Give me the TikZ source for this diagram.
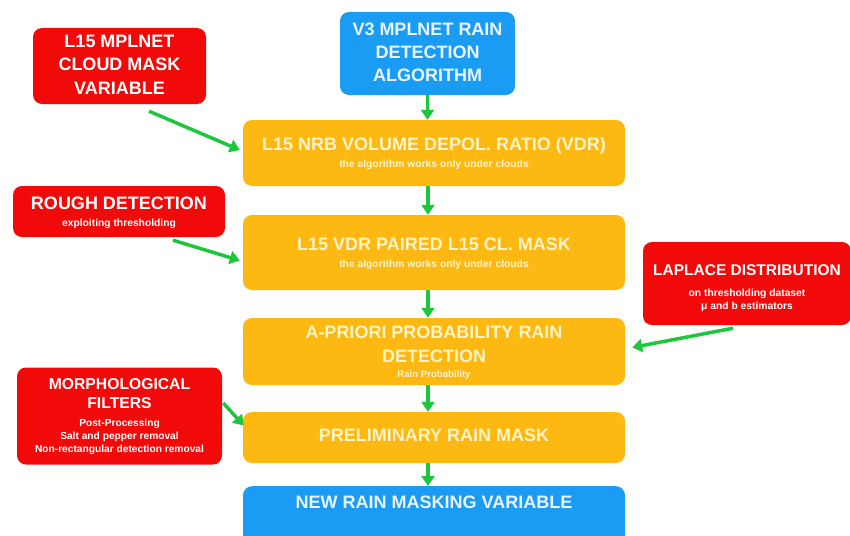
\documentclass[tikz,border=0pt]{standalone}
\usepackage{fontspec}
\setmainfont{Liberation Sans}
\usetikzlibrary{arrows.meta,calc}
\definecolor{boxred}{HTML}{F20A0A}
\definecolor{boxblue}{HTML}{1B9CF4}
\definecolor{boxorange}{HTML}{FDB812}
\definecolor{arrgreen}{HTML}{1EC63E}
\definecolor{cream}{HTML}{FFF4C8}
\definecolor{paleblue}{HTML}{EAF5FF}
\newcommand{\tb}[1]{{\renewcommand{\arraystretch}{0.4}\begin{tabular}{@{}c@{}}#1\end{tabular}}}
\newcommand{\tline}[3]{{\fontsize{#1}{#2}\selectfont\strut #3}}
\begin{document}
\begin{tikzpicture}[x=1pt,y=-1pt,
  box/.style={rectangle, rounded corners=9pt, inner sep=0pt, align=center, font=\bfseries},
  redbox/.style={box, fill=boxred, text=white},
  bluebox/.style={box, fill=boxblue, text=paleblue},
  orangebox/.style={box, fill=boxorange, text=cream, minimum width=382pt},
  arr/.style={draw=arrgreen, line width=3.5pt, -{Triangle[length=10pt,width=13pt]}},
]
\useasboundingbox (0,0) rectangle (850,535);

% main column
\node[bluebox, minimum width=175pt, minimum height=83pt] (top) at (427.5,53.5)
  {\tb{\tline{18}{23}{V3 MPLNET RAIN}\\ \tline{18}{23}{DETECTION}\\ \tline{18}{23}{ALGORITHM}}};
\node[orangebox, minimum height=66pt] (o1) at (434,153)
  {\tb{\tline{18}{24}{L15 NRB VOLUME DEPOL. RATIO (VDR)}\\ \tline{10.3}{14}{the algorithm works only under clouds}}};
\node[orangebox, minimum height=75pt] (o2) at (434,252.5)
  {\tb{\tline{18}{24}{L15 VDR PAIRED L15 CL. MASK}\\ \tline{10.3}{14}{the algorithm works only under clouds}}};
\node[orangebox, minimum height=67pt] (o3) at (434,351.5)
  {\tb{\tline{18}{24}{A-PRIORI PROBABILITY RAIN}\\ \tline{18}{24}{DETECTION}\\ \tline{9.6}{12}{Rain Probability}}};
\node[orangebox, minimum height=51pt] (o4) at (434,437.5)
  {\raisebox{5pt}{\fontsize{18}{22}\selectfont PRELIMINARY RAIN MASK}};
\node[bluebox, minimum width=382pt, minimum height=62pt, anchor=north] (bot) at (434,486) {};
\node[text=paleblue, font=\bfseries\fontsize{18}{22}\selectfont] (bottxt) at (434,502) {NEW RAIN MASKING VARIABLE};

% side boxes
\node[redbox, minimum width=173pt, minimum height=76pt] (l15) at (119.5,66)
  {\tb{\tline{18}{23.5}{L15 MPLNET}\\ \tline{18}{23.5}{CLOUD MASK}\\ \tline{18}{23.5}{VARIABLE}}};
\node[redbox, minimum width=212pt, minimum height=51pt] (rough) at (119,211.5)
  {\tb{\tline{18}{24}{ROUGH DETECTION}\\ \tline{10.3}{14}{exploiting thresholding}}};
\node[redbox, minimum width=208pt, minimum height=83pt] (lap) at (747,283.5)
  {\tb{\tline{15.5}{30}{LAPLACE DISTRIBUTION}\\ \tline{10.3}{18}{on thresholding dataset}\\ \tline{10.3}{11}{μ and b estimators}}};
\node[redbox, minimum width=205pt, minimum height=97pt] (morph) at (119.5,416)
  {\tb{\tline{15.7}{19}{MORPHOLOGICAL}\\ \tline{15.7}{19}{FILTERS}\\ \tline{10.2}{17.6}{Post-Processing}\\ \tline{10.2}{11}{Salt and pepper removal}\\ \tline{10.2}{14}{Non-rectangular detection removal}}};

% vertical connectors
\draw[arr] (top.south) -- (top.south |- o1.north);
\draw[arr] ($(o1.south)+(-6,0)$) -- ($(o2.north)+(-6,0)$);
\draw[arr] ($(o2.south)+(-6,0)$) -- ($(o3.north)+(-6,0)$);
\draw[arr] ($(o3.south)+(-6,0)$) -- ($(o4.north)+(-6,0)$);
\draw[arr] ($(o4.south)+(-6,0)$) -- ($(bot.north)+(-6,0)$);

% side connectors
\coordinate (a1s) at ($(l15.south)+(29.5,7)$);
\coordinate (a1e) at ($(o1.west)+(-3,-3)$);
\draw[arr] (a1s) -- (a1e);
\coordinate (a2s) at ($(rough.south)+(54,3)$);
\coordinate (a2e) at ($(o2.west)+(-3,8)$);
\draw[arr] (a2s) -- (a2e);
\coordinate (a3s) at ($(lap.south)+(-14,3)$);
\coordinate (a3e) at ($(o3.east)+(7,-4)$);
\draw[arr] (a3s) -- (a3e);
\coordinate (a4s) at ($(morph.east)+(1,-13)$);
\coordinate (a4e) at ($(o4.west)+(1,-12)$);
\draw[arr] (a4s) -- (a4e);
\end{tikzpicture}
\end{document}
